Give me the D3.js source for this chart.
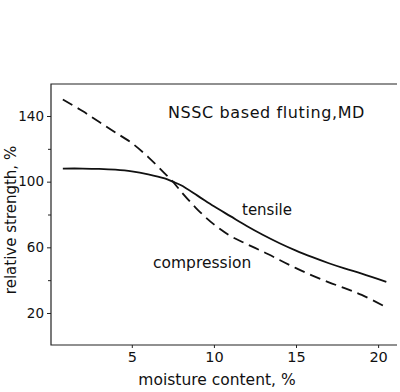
<!DOCTYPE html>
<html>
<head>
<meta charset="utf-8">
<script src="https://cdn.jsdelivr.net/npm/d3@7"></script>
<style>
  body { margin: 0; background: #fff; }
  svg text { font-family: "DejaVu Sans", sans-serif; fill: #111; }
</style>
</head>
<body>
<div id="chart"></div>
<script>
// Data
const moisture = [0.8, 2, 3, 4, 5, 6, 7, 7.5, 8, 9, 10, 11, 12, 13, 14, 15, 16, 17, 18, 19, 20.5];
const tensile = [108, 108, 107.8, 107.3, 106.3, 104.5, 102, 100, 97.8, 91.5, 85, 79, 73, 67.5, 62.5, 58, 54, 50.3, 47, 44, 39];
const compression = [150, 143, 136.5, 130, 123.5, 115, 105, 100, 94, 83, 74, 67, 62, 57.3, 52.3, 47.3, 42.8, 38.7, 35, 31, 23.5];
const xTicks = [5, 10, 15, 20];
const yTicks = [20, 60, 100, 140];
const yMinorTicks = [40, 80, 120];

const WIDTH = 400, HEIGHT = 392;
const plot = { left: 51, right: 397, top: 84, bottom: 345 };

const svg = d3.select('#chart').append('svg')
    .attr('width', WIDTH)
    .attr('height', HEIGHT);

const x = d3.scaleLinear().domain([0, 21.15]).range([49.7, plot.right]);
const y = d3.scaleLinear().domain([0.5, 159.5]).range([plot.bottom, plot.top]);

// frame: left, bottom, top (no right border)
svg.append('path')
    .attr('d', `M${plot.right},${plot.top}H${plot.left}V${plot.bottom}H${plot.right}`)
    .attr('stroke', '#222')
    .attr('stroke-width', 1.2)
    .attr('fill', 'none');

// y axis
const yAxis = svg.append('g')
    .attr('transform', `translate(${plot.left},0)`)
    .call(d3.axisLeft(y).tickValues(yTicks).tickSize(4).tickPadding(3));
yAxis.select('.domain').remove();
yAxis.selectAll('text').style('font-size', '13.5px');

svg.append('g')
    .attr('transform', `translate(${plot.left},0)`)
    .call(d3.axisLeft(y).tickValues(yMinorTicks).tickSize(3).tickFormat(''))
    .select('.domain').remove();

// x axis
const xAxis = svg.append('g')
    .attr('transform', `translate(0,${plot.bottom})`)
    .call(d3.axisBottom(x).tickValues(xTicks).tickSize(3).tickPadding(4));
xAxis.select('.domain').remove();
xAxis.selectAll('text').style('font-size', '14.5px');

svg.selectAll('.tick line').attr('stroke', '#222');

// curves
const line = (vals) => d3.line()
    .x((d, i) => x(moisture[i]))
    .y(d => y(d))
    .curve(d3.curveCatmullRom.alpha(0.5))(vals);

svg.append('path')
    .attr('d', line(tensile))
    .attr('fill', 'none')
    .attr('stroke', '#111')
    .attr('stroke-width', 1.8);

svg.append('path')
    .attr('d', line(compression))
    .attr('fill', 'none')
    .attr('stroke', '#111')
    .attr('stroke-width', 1.8)
    .attr('stroke-dasharray', '11,6');

// labels
svg.append('text')
    .attr('x', 168).attr('y', 118)
    .style('font-size', '16px')
    .style('letter-spacing', '0.6px')
    .text('NSSC based fluting,MD');

svg.append('text')
    .attr('x', 242).attr('y', 215)
    .style('font-size', '15px')
    .text('tensile');

svg.append('text')
    .attr('x', 153).attr('y', 268)
    .style('font-size', '15.5px')
    .text('compression');

svg.append('text')
    .attr('x', 217).attr('y', 385)
    .attr('text-anchor', 'middle')
    .style('font-size', '15.5px')
    .text('moisture content, %');

svg.append('text')
    .attr('transform', 'translate(16,220) rotate(-90)')
    .attr('text-anchor', 'middle')
    .style('font-size', '15px')
    .text('relative strength, %');
</script>
</body>
</html>
